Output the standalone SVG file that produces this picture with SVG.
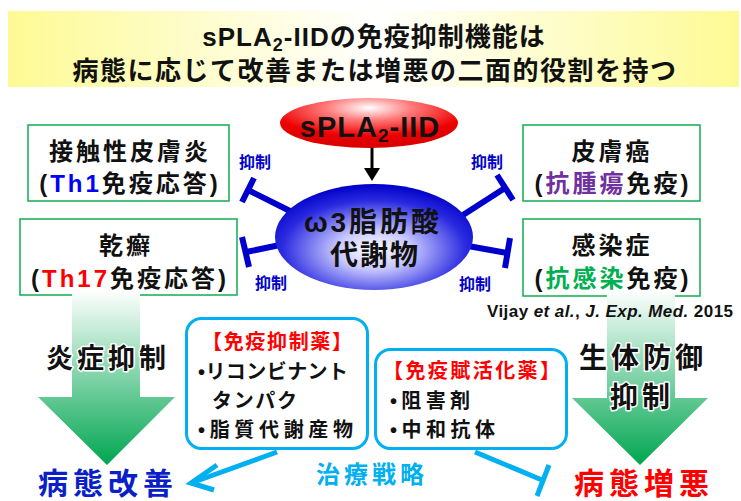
<svg xmlns="http://www.w3.org/2000/svg" width="741" height="501" viewBox="0 0 741 501">
<defs>
<linearGradient id="banner" x1="0" y1="0" x2="1" y2="0">
<stop offset="0" stop-color="#fdfa94"/>
<stop offset="0.5" stop-color="#ffffff"/>
<stop offset="1" stop-color="#fdfa94"/>
</linearGradient>
<radialGradient id="redg" cx="0.5" cy="0.2" r="0.7">
<stop offset="0" stop-color="#ffffff"/>
<stop offset="0.35" stop-color="#ff7a7a"/>
<stop offset="0.8" stop-color="#ee0000"/>
<stop offset="1" stop-color="#dd0000"/>
</radialGradient>
<radialGradient id="blueg" cx="0.5" cy="0.62" r="0.62">
<stop offset="0" stop-color="#ffffff"/>
<stop offset="0.3" stop-color="#c8c8ff"/>
<stop offset="0.75" stop-color="#2a2ae0"/>
<stop offset="1" stop-color="#0000c8"/>
</radialGradient>
<linearGradient id="greenL" gradientUnits="userSpaceOnUse" x1="0" y1="290" x2="0" y2="465">
<stop offset="0" stop-color="#ffffff"/>
<stop offset="1" stop-color="#00a650"/>
</linearGradient>
</defs>
<style>
text{font-family:"Liberation Sans","Noto Sans CJK JP",sans-serif;font-weight:bold;}
.t{font-size:26px;fill:#111;text-anchor:middle;}
.box{fill:#fff;stroke:#1fb25a;stroke-width:1.6;}
.bt{font-size:24px;fill:#111;text-anchor:middle;letter-spacing:3px;}
.inh{stroke:#0000cc;stroke-width:6;fill:none;}
.lab{font-size:16px;fill:#0000cc;text-anchor:middle;}
.cy{fill:#fff;stroke:#00b0f0;stroke-width:3;}
.ct{font-size:20px;fill:#111;}
.red{fill:#ff0000;}
.halo{paint-order:stroke;stroke:#fff;stroke-width:3px;stroke-linejoin:round;}
.cline{stroke:#00b0f0;stroke-width:5;fill:none;}
</style>

<g id="title">
<rect x="8" y="11" width="731" height="76" fill="url(#banner)"/>
<text class="t" x="374" y="46" letter-spacing="1">sPLA<tspan font-size="18" dy="5">2</tspan><tspan dy="-5">-IIDの免疫抑制機能は</tspan></text>
<text class="t" x="375" y="80" letter-spacing="1.5">病態に応じて改善または増悪の二面的役割を持つ</text>
</g>

<g id="connectors">
<line class="inh" x1="290" y1="211" x2="248" y2="190"/>
<line class="inh" x1="254" y1="178" x2="242" y2="202"/>
<line class="inh" x1="280" y1="245" x2="246" y2="252"/>
<line class="inh" x1="242" y1="237" x2="249" y2="267"/>
<line class="inh" x1="463" y1="215" x2="505" y2="188"/>
<line class="inh" x1="497" y1="175" x2="513" y2="200"/>
<line class="inh" x1="468" y1="246" x2="507" y2="253"/>
<line class="inh" x1="510" y1="238" x2="505" y2="268"/>
<line x1="372" y1="146" x2="372" y2="170" stroke="#000" stroke-width="3"/>
<polygon points="364,168 380,168 372,181" fill="#000"/>
<line class="cline" x1="277" y1="452" x2="194" y2="482"/>
<polyline class="cline" points="217,465 191,483 214,490"/>
<line class="cline" x1="475" y1="452" x2="542" y2="480"/>
<line class="cline" x1="537" y1="496" x2="549" y2="465"/>
</g>

<g id="labels">
<text class="lab" x="255" y="168">抑制</text>
<text class="lab" x="271" y="289">抑制</text>
<text class="lab" x="487" y="168">抑制</text>
<text class="lab" x="475" y="290">抑制</text>
</g>

<g id="spla2">
<ellipse cx="369" cy="123" rx="89" ry="25" fill="url(#redg)"/>
<text x="370" y="137" font-size="29" fill="#111" text-anchor="middle" letter-spacing="1">sPLA<tspan font-size="19" dy="5">2</tspan><tspan dy="-5">-IID</tspan></text>
</g>

<g id="metabolite">
<ellipse cx="374" cy="237" rx="99" ry="53" fill="url(#blueg)"/>
<text x="373" y="232" font-size="28" fill="#111" text-anchor="middle" letter-spacing="3">ω3脂肪酸</text>
<text x="375" y="265" font-size="28" fill="#111" text-anchor="middle" letter-spacing="2">代謝物</text>
</g>

<g id="contact-dermatitis">
<rect class="box" x="28" y="125" width="201" height="76"/>
<text class="bt" x="130" y="160">接触性皮膚炎</text>
<text class="bt" x="130" y="192">(<tspan fill="#0000ff">Th1</tspan>免疫応答)</text>
</g>

<g id="psoriasis">
<rect class="box" x="20" y="219" width="217" height="76"/>
<text class="bt" x="126" y="254">乾癬</text>
<text class="bt" x="130" y="287">(<tspan fill="#ff0000">Th17</tspan>免疫応答)</text>
</g>

<g id="skin-cancer">
<rect class="box" x="523" y="125" width="177" height="76"/>
<text class="bt" x="612" y="160">皮膚癌</text>
<text class="bt" x="613" y="192">(<tspan fill="#7030a0">抗腫瘍</tspan>免疫)</text>
</g>

<g id="infection">
<rect class="box" x="523" y="219" width="177" height="77"/>
<text class="bt" x="612" y="254">感染症</text>
<text class="bt" x="613" y="287">(<tspan fill="#00b050">抗感染</tspan>免疫)</text>
</g>

<g id="left-arrow">
<polygon points="72,290 140,290 140,397 175,397 107,465 38,397 72,397" fill="url(#greenL)"/>
<text class="halo" x="108" y="368" font-size="27" fill="#111" text-anchor="middle" letter-spacing="4">炎症抑制</text>
<text x="108" y="494" font-size="30" fill="#0a1fc8" text-anchor="middle" letter-spacing="5">病態改善</text>
</g>

<g id="right-arrow">
<polygon points="607,290 675,290 675,398 708,398 640,465 572,398 607,398" fill="url(#greenL)"/>
<text class="halo" x="643" y="368" font-size="28" fill="#111" text-anchor="middle" letter-spacing="4">生体防御</text>
<text class="halo" x="642" y="407" font-size="28" fill="#111" text-anchor="middle" letter-spacing="4">抑制</text>
<text x="644" y="494" font-size="30" fill="#ff0000" text-anchor="middle" letter-spacing="5">病態増悪</text>
</g>

<g id="citation">
<text x="487" y="317" font-size="17" fill="#111" textLength="246" lengthAdjust="spacing">Vijay <tspan font-style="italic">et al.</tspan>, <tspan font-style="italic">J. Exp. Med.</tspan> 2015</text>
</g>

<g id="immunosuppressant">
<rect class="cy" x="186.5" y="318.5" width="181" height="130" rx="15"/>
<text class="ct red" x="202" y="349" textLength="150" lengthAdjust="spacing">【免疫抑制薬】</text>
<text class="ct" x="198" y="379" textLength="150" lengthAdjust="spacing">•リコンビナント</text>
<text class="ct" x="212" y="408" textLength="85" lengthAdjust="spacing">タンパク</text>
<text class="ct" x="198" y="437" textLength="155" lengthAdjust="spacing">•脂質代謝産物</text>
</g>

<g id="immunostimulant">
<rect class="cy" x="375.5" y="349.5" width="191" height="99" rx="15"/>
<text class="ct red" x="383" y="378" textLength="177" lengthAdjust="spacing">【免疫賦活化薬】</text>
<text class="ct" x="390" y="408" textLength="80" lengthAdjust="spacing">•阻害剤</text>
<text class="ct" x="390" y="437" textLength="105" lengthAdjust="spacing">•中和抗体</text>
</g>

<g id="strategy">
<text x="372" y="483" font-size="24" fill="#00b0f0" text-anchor="middle" letter-spacing="4">治療戦略</text>
</g>
</svg>
